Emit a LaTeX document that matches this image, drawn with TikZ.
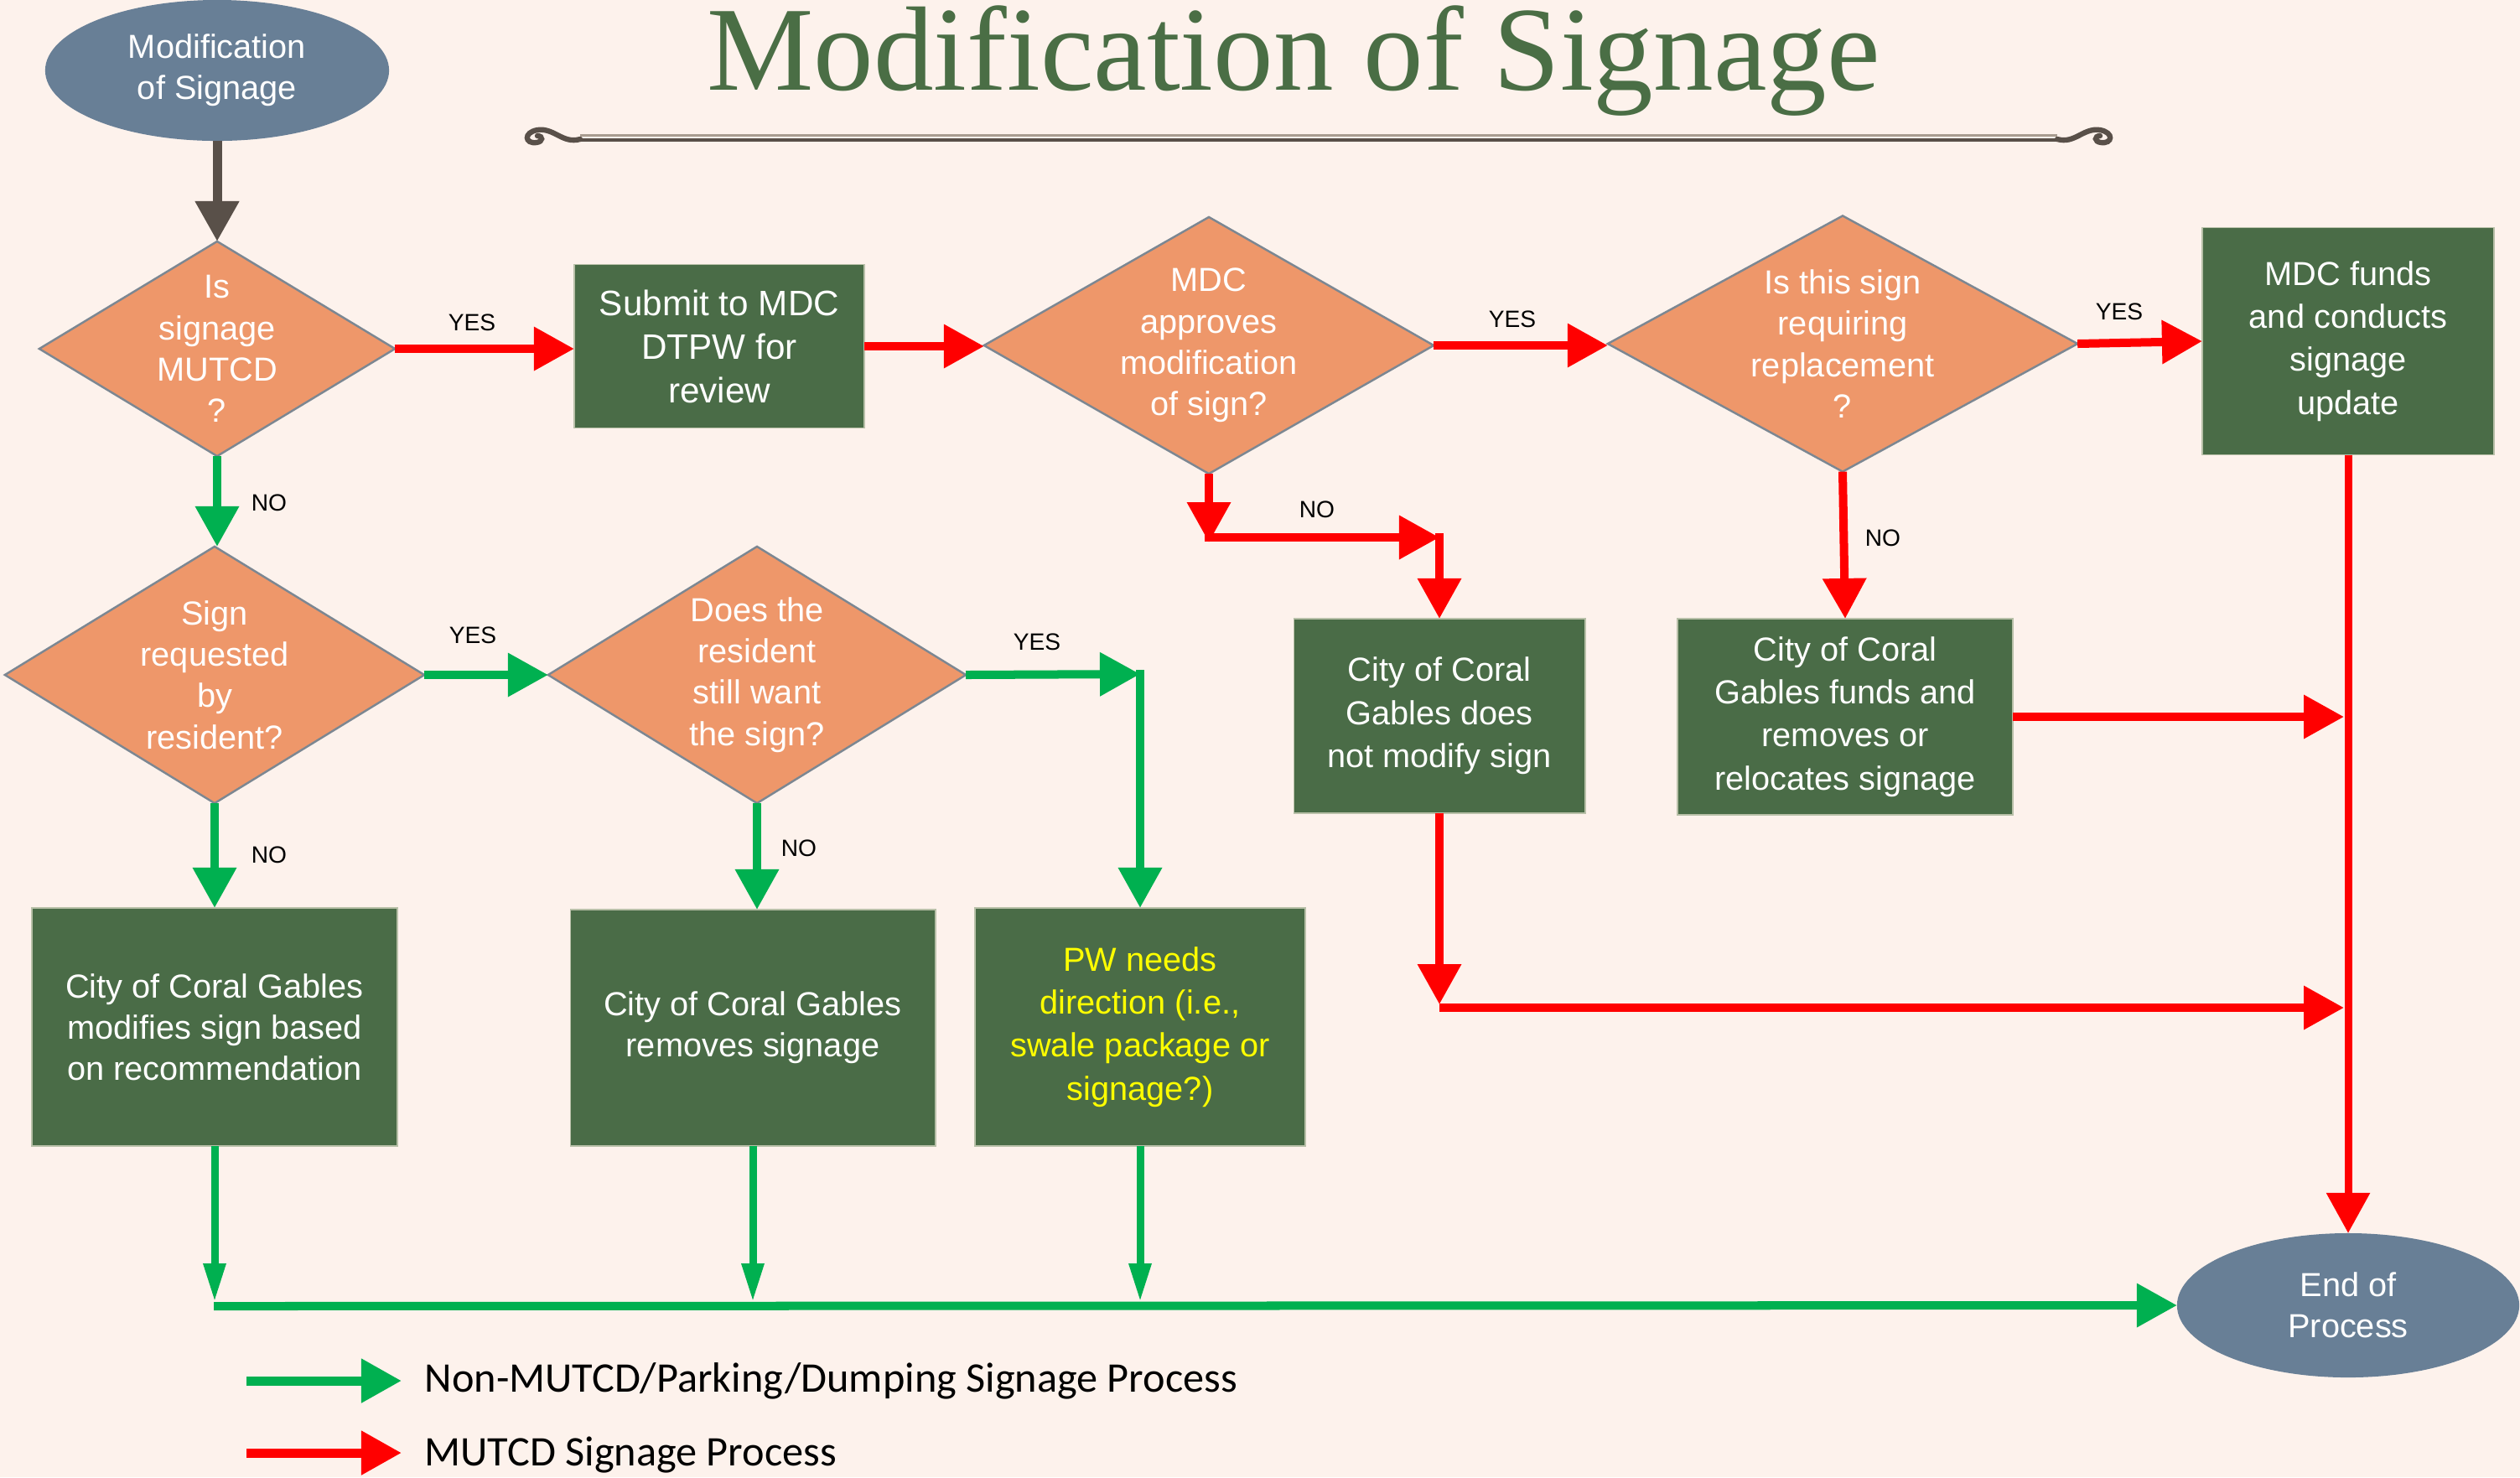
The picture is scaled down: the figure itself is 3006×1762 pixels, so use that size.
\documentclass[tikz,border=0pt]{standalone}
\usepackage{fontspec}
\setmainfont{Liberation Sans}
\newfontfamily\titlefont{Liberation Serif}
\newfontfamily\legfont{Carlito}
\usetikzlibrary{shapes.geometric,arrows.meta}
\definecolor{bg}{HTML}{FDF2EC}
\definecolor{ovalc}{HTML}{687F96}
\definecolor{diac}{HTML}{EE976A}
\definecolor{diabord}{HTML}{7C8792}
\definecolor{boxc}{HTML}{4A6C47}
\definecolor{boxbord}{HTML}{B8C0A8}
\definecolor{redc}{HTML}{FF0000}
\definecolor{greenc}{HTML}{00B050}
\definecolor{darkc}{HTML}{595049}
\definecolor{titlec}{HTML}{4A6E45}
\definecolor{ornlight}{HTML}{A89C90}
\definecolor{pwyellow}{HTML}{FFFF00}
\begin{document}
\begin{tikzpicture}[x=0.01cm,y=-0.01cm,
  txt/.style={font=\fontsize{11.3}{14}\selectfont, text=white, align=center},
  oval/.style={ellipse, fill=ovalc, draw=none, inner sep=0pt, outer sep=0pt, txt},
  dia/.style={diamond, fill=diac, draw=diabord, line width=0.7pt, inner sep=0pt, outer sep=0pt},
  proc/.style={rectangle, fill=boxc, draw=boxbord, line width=0.5pt, inner sep=0pt, outer sep=0pt, txt},
  flowr/.style={draw=redc, line width=0.1cm, -{Triangle[length=0.48cm,width=0.5cm]}},
  flowg/.style={draw=greenc, line width=0.1cm, -{Triangle[length=0.48cm,width=0.5cm]}},
  flowd/.style={draw=darkc, line width=0.11cm, -{Triangle[length=0.48cm,width=0.5cm]}},
  narrowg/.style={draw=greenc, line width=0.09cm, -{Triangle[length=0.46cm,width=0.25cm]}},
  lab/.style={font=\fontsize{8}{9}\selectfont, text=black, inner sep=0pt},
  legtxt/.style={font=\legfont\fontsize{14.3}{16}\selectfont, text=black, inner sep=0pt, anchor=base west}
]
\useasboundingbox (0,0) rectangle (3006,1762);
\fill[bg] (0,0) rectangle (3006,1762);

% title and ornament
\node[anchor=base, inner sep=0pt, font=\titlefont\fontsize{40.7}{44}\selectfont, text=titlec] (title) at (1543,107) {Modification of Signage};
\draw[ornlight, line width=0.03cm] (692,161) -- (2454,161);
\draw[darkc, line width=0.045cm] (692,167) -- (2454,167);
\draw[darkc, line width=1.8pt, line cap=round] (2454,166) .. controls (2475,172) and (2485,152) .. (2505,155) .. controls (2522,158) and (2520,172) .. (2506,170) .. controls (2498,169) and (2498,162) .. (2505,162);
\draw[darkc, line width=1.8pt, line cap=round] (692,166) .. controls (671,172) and (661,152) .. (641,155) .. controls (624,158) and (626,172) .. (640,170) .. controls (648,169) and (648,162) .. (641,162);

% shapes
\node[oval, minimum width=4.10cm, minimum height=1.68cm] (start) at (259,84) {Modification\\of Signage};

\node[dia, minimum width=4.24cm, minimum height=2.56cm] (d1) at (259,416) {};
\node[txt] (d1t) at (d1) {Is\\signage\\MUTCD\\?};

\node[proc, minimum width=3.46cm, minimum height=1.95cm, font=\fontsize{12}{14.8}\selectfont] (submit) at (858,413) {Submit to MDC\\DTPW for\\review};

\node[dia, minimum width=5.36cm, minimum height=3.06cm] (d2) at (1442,412) {};
\node[txt] (d2t) at (d2) {MDC\\approves\\modification\\of sign?};

\node[dia, minimum width=5.60cm, minimum height=3.05cm] (d3) at (2198,410) {};
\node[txt] (d3t) at (d3) {Is this sign\\requiring\\replacement\\?};

\node[proc, minimum width=3.48cm, minimum height=2.71cm, font=\fontsize{11.3}{14.6}\selectfont] (mdc) at (2801,407) {MDC funds\\and conducts\\signage\\update};

\node[dia, minimum width=5.00cm, minimum height=3.06cm] (d4) at (256,805) {};
\node[txt] (d4t) at (d4) {Sign\\requested\\by\\resident?};

\node[dia, minimum width=4.98cm, minimum height=3.06cm] (d5) at (903,805) {};
\node[txt] (d5t) at (d5) {Does the\\resident\\still want\\the sign?};

\node[proc, minimum width=4.36cm, minimum height=2.84cm] (box1) at (256,1225) {City of Coral Gables\\modifies sign based\\on recommendation};
\node[proc, minimum width=4.35cm, minimum height=2.82cm] (box2) at (898,1226) {City of Coral Gables\\removes signage};
\node[proc, minimum width=3.94cm, minimum height=2.84cm, text=pwyellow, font=\fontsize{11.3}{14.6}\selectfont] (pw) at (1360,1225) {PW needs\\direction (i.e.,\\swale package or\\signage?)};

\node[proc, minimum width=3.47cm, minimum height=2.32cm, font=\fontsize{11.3}{14.6}\selectfont] (nomod) at (1717,854) {City of Coral\\Gables does\\not modify sign};
\node[proc, minimum width=4.00cm, minimum height=2.34cm, font=\fontsize{11.3}{14.6}\selectfont] (funds) at (2201,855) {City of Coral\\Gables funds and\\removes or\\relocates signage};

\node[oval, minimum width=4.08cm, minimum height=1.72cm] (end) at (2801,1557) {End of\\Process};

% helper coordinates
\coordinate (d2no) at (1442,641);
\coordinate (d2corner) at (1717,641);
\coordinate (frx) at (2796,855);
\coordinate (nmdown) at (1717,1202);
\coordinate (nmright) at (2796,1202);
\coordinate (g1) at (1360,804);
\coordinate (bus) at (255,1558);
\coordinate (b1t) at (256,1553);
\coordinate (b2t) at (898,1553);
\coordinate (b3t) at (1360,1553);

% connectors
\draw[flowd] (start) -- (d1.north);
\draw[flowr] (d1.east) -- (d1.east -| submit.west);
\draw[flowr] (submit.east) -- (submit.east -| d2.west);
\draw[flowr] (d2.east) -- (d2.east -| d3.west);
\draw[flowr] (d3.east) -- (mdc.west);
\draw[flowr] (d2.south) -- ([yshift=-0.06cm]d2no);
\draw[flowr] ([xshift=-0.05cm]d2no) -- (d2corner);
\draw[flowr] ([yshift=0.05cm]d2corner) -- (nomod.north);
\draw[flowr] (d3.south) -- (funds.north);
\draw[flowr, line width=0.09cm] (mdc.south) -- (end.north);
\draw[flowr] (funds.east) -- (frx);
\draw[flowr] (nomod.south) -- ([yshift=0.04cm]nmdown);
\draw[flowr] (nmdown) -- (nmright);

\draw[flowg] (d1.south) -- (d1.south |- d4.north);
\draw[flowg] (d4.east) -- (d5.west);
\draw[flowg] (d5.east) -- (g1);
\draw[flowg] ([yshift=0.05cm]g1) -- (pw.north);
\draw[flowg] (d4.south) -- (box1.north);
\draw[flowg] (d5.south) -- (d5.south |- box2.north);
\draw[narrowg] (box1.south) -- (b1t);
\draw[narrowg] (box2.south) -- (b2t);
\draw[narrowg] (pw.south) -- (b3t);
\draw[flowg] (bus) -- (end.west);

% labels
\node[lab] (y1) at (563,385) {YES};
\node[lab] (y2) at (1804,381) {YES};
\node[lab] (y3) at (2528,372) {YES};
\node[lab] (y4) at (564,758) {YES};
\node[lab] (y5) at (1237,766) {YES};
\node[lab] (n1) at (321,600) {NO};
\node[lab] (n2) at (1571,608) {NO};
\node[lab] (n3) at (2246,642) {NO};
\node[lab] (n4) at (321,1020) {NO};
\node[lab] (n5) at (953,1012) {NO};

% legend
\coordinate (lga) at (294,1647);
\coordinate (lgb) at (479,1647);
\coordinate (lgc) at (294,1733);
\coordinate (lgd) at (479,1733);
\draw[flowg, line width=0.11cm] (lga) -- (lgb);
\draw[flowr, line width=0.11cm] (lgc) -- (lgd);
\node[legtxt] (leg1) at (506,1660) {Non-MUTCD/Parking/Dumping Signage Process};
\node[legtxt] (leg2) at (506,1748) {MUTCD Signage Process};
\end{tikzpicture}
\end{document}
